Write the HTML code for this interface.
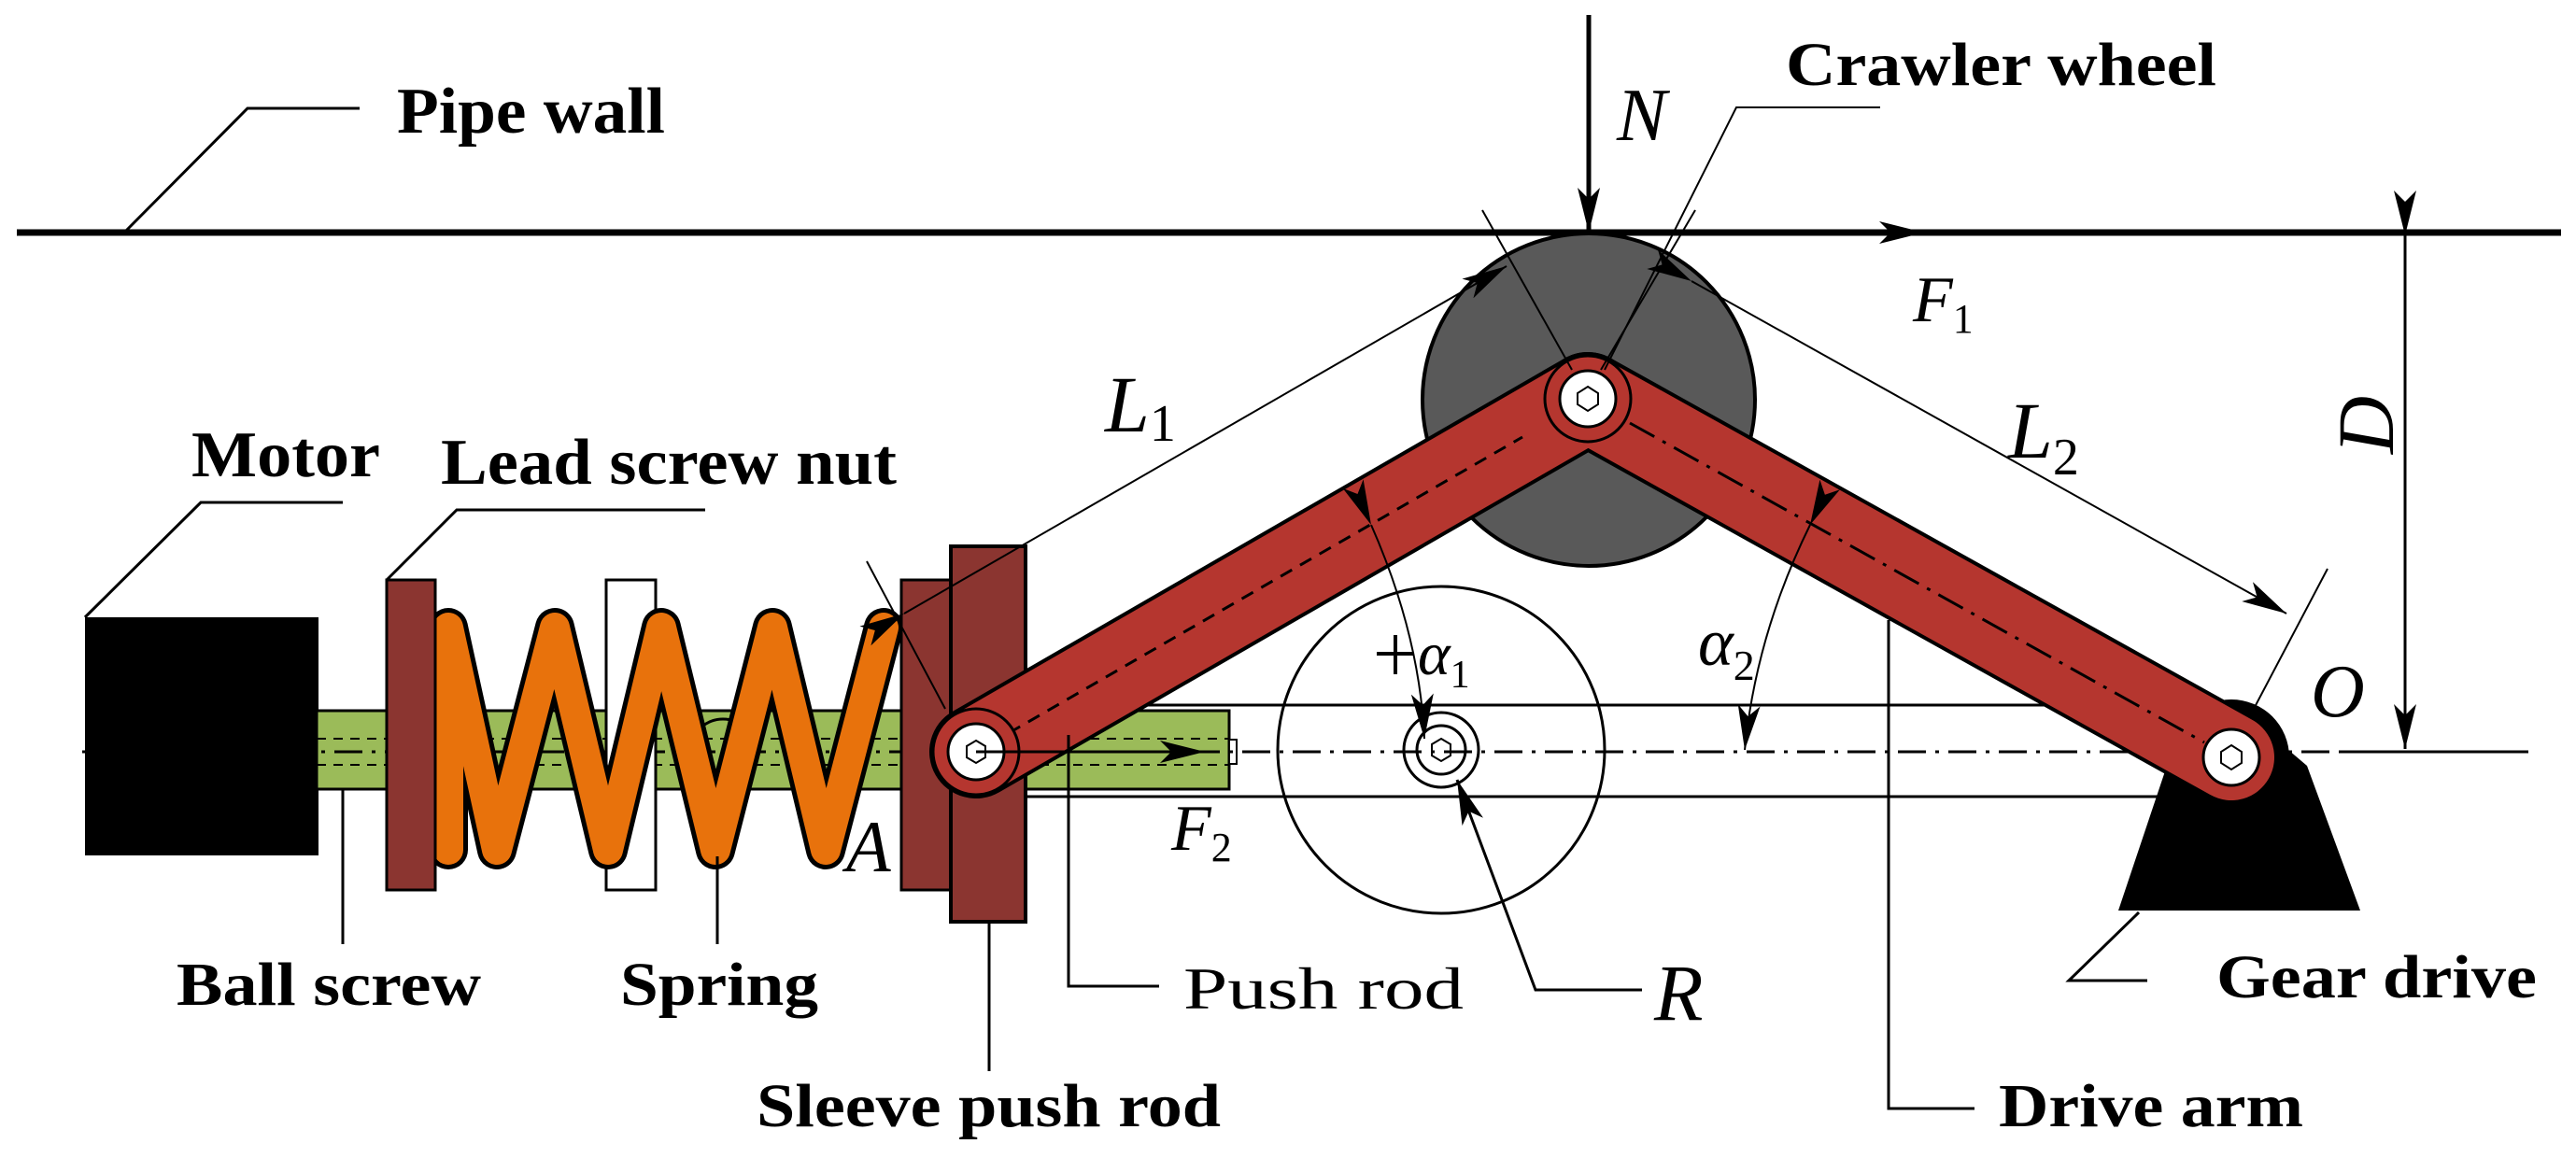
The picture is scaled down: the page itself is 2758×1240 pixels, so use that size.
<!DOCTYPE html>
<html><head><meta charset="utf-8"><style>html,body{margin:0;padding:0;background:#fff}svg{display:block}</style></head><body>
<svg width="2758" height="1240" viewBox="0 0 2758 1240" xmlns="http://www.w3.org/2000/svg">
<defs>
<marker id="ah" viewBox="0 0 20 10" refX="20" refY="5" markerWidth="50" markerHeight="24" markerUnits="userSpaceOnUse" orient="auto"><path d="M0,0 L20,5 L0,10 L5,5 z" fill="#000"/></marker>
</defs>
<g font-family="Liberation Serif, serif">
<line x1="18" y1="249" x2="2742" y2="249" stroke="#000" stroke-width="7"/>
<polyline points="133,249 265,116 385,116" fill="none" stroke="#000" stroke-width="3"/>
<text x="425" y="142" font-size="70" font-weight="bold" textLength="287" lengthAdjust="spacingAndGlyphs">Pipe wall</text>

<line x1="1018" y1="755" x2="2300" y2="755" stroke="#000" stroke-width="3"/>
<line x1="1018" y1="853" x2="2330" y2="853" stroke="#000" stroke-width="3"/>

<circle cx="1543" cy="803" r="175" fill="none" stroke="#000" stroke-width="3"/>
<circle cx="1543" cy="803" r="40" fill="#fff" stroke="#000" stroke-width="3"/>
<circle cx="1543" cy="803" r="26" fill="none" stroke="#000" stroke-width="3"/>
<polygon points="1543,791 1553,797 1553,809 1543,815 1533,809 1533,797" fill="#fff" stroke="#000" stroke-width="2"/>

<rect x="91" y="661" width="250" height="255" fill="#000"/>
<polyline points="91,661 215,538 367,538" fill="none" stroke="#000" stroke-width="3"/>
<text x="205" y="510" font-size="70" font-weight="bold" textLength="202" lengthAdjust="spacingAndGlyphs">Motor</text>

<rect x="339" y="761" width="977" height="84" fill="#9bbb59" stroke="#000" stroke-width="3"/>
<line x1="339" y1="791" x2="1316" y2="791" stroke="#000" stroke-width="2" stroke-dasharray="10,8"/>
<line x1="339" y1="819" x2="1316" y2="819" stroke="#000" stroke-width="2" stroke-dasharray="10,8"/>
<rect x="1316" y="792" width="8" height="26" fill="#fff" stroke="#000" stroke-width="2"/>

<line x1="88" y1="805" x2="2505" y2="805" stroke="#000" stroke-width="3" stroke-dasharray="30,10,4,10"/>
<line x1="2505" y1="805" x2="2707" y2="805" stroke="#000" stroke-width="3"/>

<rect x="649" y="621" width="53" height="332" fill="#fff" stroke="#000" stroke-width="3"/>
<circle cx="774" cy="805" r="35" fill="none" stroke="#000" stroke-width="3"/>

<polyline points="480,910 480,672 532,910 594,672 651,910 708,672 766,910 827,672 884,910 946,672" fill="none" stroke="#000" stroke-width="42" stroke-linejoin="round" stroke-linecap="round"/>
<polyline points="480,910 480,672 532,910 594,672 651,910 708,672 766,910 827,672 884,910 946,672" fill="none" stroke="#e8720c" stroke-width="32" stroke-linejoin="round" stroke-linecap="round"/>

<rect x="414" y="621" width="52" height="332" fill="#8b3530" stroke="#000" stroke-width="3"/>
<polyline points="414,621 489,546 755,546" fill="none" stroke="#000" stroke-width="3"/>
<text x="472" y="518" font-size="70" font-weight="bold" textLength="488" lengthAdjust="spacingAndGlyphs">Lead screw nut</text>

<rect x="965" y="621" width="53" height="332" fill="#8b3530" stroke="#000" stroke-width="3"/>
<rect x="1018" y="585" width="80" height="402" fill="#8b3530" stroke="#000" stroke-width="4"/>

<polygon points="2268,975 2527,975 2470,820 2389,751 2330,790" fill="#000"/>
<circle cx="2389" cy="811" r="62" fill="#000"/>

<circle cx="1701" cy="428" r="178" fill="#595959" stroke="#000" stroke-width="4"/>

<line x1="1045" y1="805" x2="1700" y2="427" stroke="#000" stroke-width="100" stroke-linecap="round"/>
<line x1="1700" y1="427" x2="2389" y2="811" stroke="#000" stroke-width="100" stroke-linecap="round"/>
<line x1="1045" y1="805" x2="1700" y2="427" stroke="#b5362f" stroke-width="92" stroke-linecap="round"/>
<line x1="1700" y1="427" x2="2389" y2="811" stroke="#b5362f" stroke-width="92" stroke-linecap="round"/>
<circle cx="1700" cy="427" r="46" fill="#b5362f" stroke="#000" stroke-width="3"/>
<line x1="1080" y1="785" x2="1630" y2="468" stroke="#000" stroke-width="3" stroke-dasharray="14,10"/>
<line x1="1745" y1="453" x2="2360" y2="795" stroke="#000" stroke-width="3" stroke-dasharray="30,10,4,10"/>

<g stroke="#000" stroke-width="3">
<circle cx="1045" cy="805" r="46" fill="#b5362f"/><circle cx="1045" cy="805" r="30" fill="#fff"/>
<circle cx="1700" cy="427" r="30" fill="#fff"/>
<circle cx="2389" cy="811" r="30" fill="#fff"/>
</g>
<g fill="#fff" stroke="#000" stroke-width="2">
<polygon points="1045,793 1055,799 1055,811 1045,817 1035,811 1035,799"/>
<polygon points="1700,414 1711,421 1711,433 1700,440 1689,433 1689,421"/>
<polygon points="2389,798 2400,805 2400,817 2389,824 2378,817 2378,805"/>
</g>

<line x1="1045" y1="805" x2="1290" y2="805" stroke="#000" stroke-width="3" marker-end="url(#ah)"/>
<text x="1254" y="910" font-size="70" font-style="italic">F<tspan font-size="44" font-style="normal" dy="12">2</tspan></text>
<text x="906" y="933" font-size="78" font-style="italic">A</text>

<line x1="928" y1="601" x2="1012" y2="759" stroke="#000" stroke-width="2"/>
<line x1="1587" y1="225" x2="1683" y2="396" stroke="#000" stroke-width="2"/>
<line x1="968" y1="657" x2="1613" y2="285" stroke="#000" stroke-width="2" marker-start="url(#ah)" marker-end="url(#ah)"/>
<text x="1183" y="462" font-size="86" font-style="italic">L<tspan font-size="56" font-style="normal" dy="10">1</tspan></text>

<line x1="1815" y1="225" x2="1714" y2="396" stroke="#000" stroke-width="2"/>
<line x1="2492" y1="609" x2="2413" y2="759" stroke="#000" stroke-width="2"/>
<line x1="1811" y1="301" x2="2448" y2="657" stroke="#000" stroke-width="2" marker-start="url(#ah)" marker-end="url(#ah)"/>
<text x="2150" y="490" font-size="86" font-style="italic">L<tspan font-size="56" font-style="normal" dy="18">2</tspan></text>

<polyline points="1718,396 1859,115 2013,115" fill="none" stroke="#000" stroke-width="2"/>
<text x="1912" y="91" font-size="66" font-weight="bold" textLength="461" lengthAdjust="spacingAndGlyphs">Crawler wheel</text>

<line x1="1701" y1="16" x2="1701" y2="249" stroke="#000" stroke-width="5" marker-end="url(#ah)"/>
<text x="1731" y="150" font-size="80" font-style="italic">N</text>

<line x1="1990" y1="249" x2="2060" y2="249" stroke="#000" stroke-width="3" marker-end="url(#ah)"/>
<text x="2048" y="344" font-size="70" font-style="italic">F<tspan font-size="44" font-style="normal" dy="12">1</tspan></text>

<line x1="2575" y1="252" x2="2575" y2="802" stroke="#000" stroke-width="3" marker-start="url(#ah)" marker-end="url(#ah)"/>
<text transform="translate(2562,455) rotate(-90)" text-anchor="middle" font-size="86" font-style="italic">D</text>
<text x="2474" y="767" font-size="80" font-style="italic">O</text>

<path d="M1468,562 Q1520,680 1525,791" fill="none" stroke="#000" stroke-width="2" marker-start="url(#ah)" marker-end="url(#ah)"/>
<line x1="1474" y1="700" x2="1514" y2="700" stroke="#000" stroke-width="4"/>
<line x1="1494" y1="680" x2="1494" y2="722" stroke="#000" stroke-width="4"/>
<text x="1518" y="722" font-size="66" font-style="italic">α<tspan font-size="42" font-style="normal" dy="14">1</tspan></text>

<path d="M1938,562 Q1880,680 1868,803" fill="none" stroke="#000" stroke-width="2" marker-start="url(#ah)" marker-end="url(#ah)"/>
<text x="1818" y="712" font-size="72" font-style="italic">α<tspan font-size="46" font-style="normal" dy="16">2</tspan></text>

<polyline points="1758,1060 1644,1060 1560,835" fill="none" stroke="#000" stroke-width="3" marker-end="url(#ah)"/>
<text x="1771" y="1092" font-size="86" font-style="italic">R</text>

<line x1="367" y1="845" x2="367" y2="1011" stroke="#000" stroke-width="3"/>
<text x="189" y="1076" font-size="66" font-weight="bold" textLength="326" lengthAdjust="spacingAndGlyphs">Ball screw</text>
<line x1="768" y1="917" x2="768" y2="1011" stroke="#000" stroke-width="3"/>
<text x="664" y="1076" font-size="66" font-weight="bold" textLength="212" lengthAdjust="spacingAndGlyphs">Spring</text>
<line x1="1059" y1="987" x2="1059" y2="1147" stroke="#000" stroke-width="3"/>
<text x="810" y="1206" font-size="66" font-weight="bold" textLength="497" lengthAdjust="spacingAndGlyphs">Sleeve push rod</text>
<polyline points="1144,787 1144,1056 1241,1056" fill="none" stroke="#000" stroke-width="3"/>
<text x="1267" y="1080" font-size="64" textLength="300" lengthAdjust="spacingAndGlyphs">Push  rod</text>
<polyline points="2022,664 2022,1187 2114,1187" fill="none" stroke="#000" stroke-width="3"/>
<text x="2140" y="1206" font-size="66" font-weight="bold" textLength="326" lengthAdjust="spacingAndGlyphs">Drive arm</text>
<polyline points="2290,977 2215,1050 2299,1050" fill="none" stroke="#000" stroke-width="3"/>
<text x="2373" y="1068" font-size="66" font-weight="bold" textLength="343" lengthAdjust="spacingAndGlyphs">Gear drive</text>
</g>
</svg>
</body></html>
